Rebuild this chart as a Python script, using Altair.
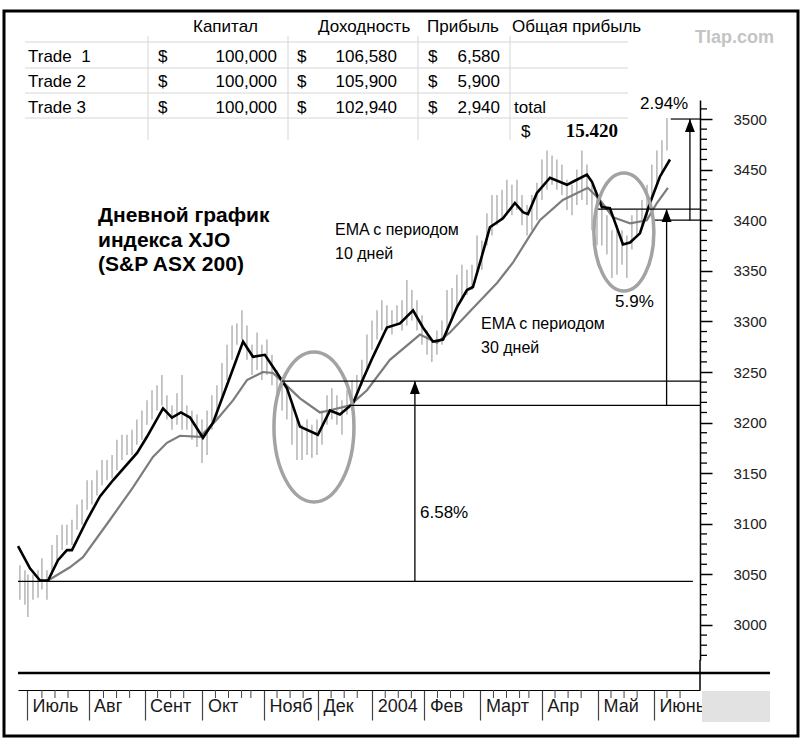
import json
import pandas as pd
import altair as alt

# ---------------- scale geometry (days since 1 Jul 2003, index points) ----------------
X_DOMAIN = [-4.82, 360.7]
Y_DOMAIN = [2965.4, 3518.8]

# ---------------- daily price bars ----------------
bar_day = [-3.8, -1.1, 0.5, 3.2, 5.9, 8.0, 10.7, 13.4, 16.1, 18.8,
           21.4, 24.1, 26.8, 29.5, 32.2, 34.8, 37.5, 40.2, 42.9, 45.6,
           48.2, 50.9, 53.6, 56.3, 58.9, 61.6, 64.3, 67.0, 69.7, 72.3,
           75.0, 77.7, 80.4, 83.1, 85.7, 88.4, 91.1, 93.8, 96.5, 99.1,
           101.8, 104.5, 107.2, 109.9, 112.5, 115.2, 117.9, 120.6, 123.3, 125.9,
           128.6, 131.3, 134.0, 136.7, 139.3, 142.0, 144.7, 147.4, 150.1, 152.7,
           155.4, 158.1, 160.8, 163.4, 166.1, 168.8, 171.5, 174.2, 176.8, 179.5,
           182.2, 184.9, 187.6, 190.2, 192.9, 195.6, 198.3, 201.0, 203.6, 206.3,
           209.0, 211.7, 214.4, 217.0, 219.7, 222.4, 225.1, 227.8, 230.4, 233.1,
           235.8, 238.5, 241.2, 243.8, 246.5, 249.2, 251.9, 254.6, 257.2, 259.9,
           262.6, 265.3, 268.0, 270.6, 273.3, 276.0, 278.7, 281.4, 284.0, 286.7,
           289.4, 292.1, 294.7, 297.4, 300.1, 302.8, 305.5, 308.1, 310.8, 313.5,
           316.2, 318.9, 321.5, 324.2, 326.9, 329.6, 332.3, 334.9, 337.6, 340.3,
           343.0]
bar_high = [3059, 3054, 3050, 3050, 3054, 3066, 3054, 3079, 3089, 3099,
            3099, 3104, 3119, 3124, 3143, 3143, 3153, 3163, 3163, 3168,
            3183, 3188, 3188, 3193, 3203, 3212, 3222, 3232, 3237, 3247,
            3227, 3217, 3229, 3247, 3217, 3212, 3208, 3203, 3212, 3227,
            3237, 3259, 3277, 3296, 3298, 3311, 3296, 3277, 3289, 3277,
            3282, 3267, 3252, 3242, 3232, 3217, 3203, 3198, 3203, 3198,
            3203, 3212, 3227, 3234, 3227, 3222, 3232, 3242, 3247, 3262,
            3287, 3301, 3311, 3321, 3316, 3311, 3316, 3321, 3341, 3331,
            3321, 3306, 3291, 3282, 3291, 3301, 3331, 3333, 3346, 3356,
            3351, 3356, 3385, 3380, 3407, 3425, 3425, 3430, 3440, 3435,
            3440, 3425, 3415, 3425, 3437, 3460, 3469, 3464, 3460, 3455,
            3440, 3435, 3450, 3469, 3455, 3435, 3425, 3415, 3405, 3390,
            3395, 3390, 3385, 3405, 3410, 3420, 3435, 3455, 3469, 3479,
            3501]
bar_low = [3025, 3020, 3008, 3025, 3027, 3035, 3025, 3050, 3064, 3074,
           3079, 3079, 3094, 3099, 3114, 3119, 3128, 3138, 3143, 3145,
           3153, 3163, 3168, 3168, 3178, 3183, 3198, 3203, 3212, 3217,
           3203, 3193, 3198, 3193, 3193, 3183, 3176, 3160, 3168, 3193,
           3203, 3222, 3242, 3262, 3277, 3282, 3262, 3247, 3252, 3242,
           3247, 3237, 3222, 3212, 3203, 3178, 3163, 3163, 3168, 3165,
           3168, 3178, 3198, 3203, 3198, 3188, 3208, 3212, 3222, 3237,
           3252, 3272, 3282, 3291, 3291, 3287, 3296, 3291, 3296, 3301,
           3291, 3277, 3267, 3260, 3267, 3277, 3287, 3301, 3311, 3321,
           3326, 3331, 3346, 3351, 3375, 3385, 3395, 3400, 3405, 3405,
           3410, 3395, 3385, 3390, 3400, 3420, 3430, 3435, 3430, 3425,
           3410, 3405, 3415, 3420, 3415, 3390, 3375, 3375, 3366, 3343,
           3346, 3356, 3343, 3371, 3385, 3392, 3400, 3420, 3435, 3445,
           3469]

# ---------------- moving averages ----------------
ema10_day = [-4.8, 1.6, 7.0, 11.3, 16.6, 21.4, 24.1, 32.2, 39.1, 46.1,
             59.0, 64.3, 72.9, 77.7, 82.5, 87.4, 94.3, 99.7, 108.8, 115.8,
             121.1, 127.5, 134.0, 139.3, 146.3, 155.9, 162.4, 167.7, 174.7, 180.1,
             185.4, 192.9, 199.9, 206.9, 212.2, 217.6, 223.0, 230.4, 235.8, 239.0,
             242.8, 248.1, 255.1, 261.5, 265.8, 268.5, 273.3, 280.3, 289.4, 292.6,
             300.1, 302.8, 308.1, 312.4, 319.4, 323.2, 328.5, 333.9, 339.2, 344.6]
ema10_val = [3078, 3056, 3044, 3044, 3064, 3074, 3074, 3104, 3127, 3143,
             3170, 3186, 3214, 3205, 3210, 3205, 3185, 3200, 3245, 3280,
             3265, 3267, 3249, 3234, 3196, 3188, 3212, 3208, 3219, 3243,
             3265, 3294, 3298, 3311, 3294, 3280, 3282, 3314, 3331, 3334,
             3358, 3393, 3402, 3417, 3408, 3406, 3427, 3442, 3435, 3438,
             3445, 3438, 3413, 3412, 3376, 3378, 3387, 3417, 3443, 3460]

ema30_day = [11.3, 23.0, 30.0, 44.5, 56.8, 67.5, 75.0, 82.0, 92.7, 101.8,
             110.4, 117.9, 126.5, 131.8, 137.2, 146.3, 157.0, 164.0, 173.1, 182.2,
             194.5, 210.6, 219.7, 226.7, 239.0, 251.9, 260.4, 269.6, 274.9, 287.2,
             300.6, 307.1, 314.0, 323.2, 332.2, 337.6, 343.5]
ema30_val = [3044, 3057, 3067, 3104, 3136, 3166, 3180, 3187, 3186, 3203,
             3222, 3242, 3250, 3249, 3240, 3224, 3210, 3213, 3217, 3232,
             3262, 3287, 3279, 3289, 3313, 3338, 3358, 3385, 3400, 3420,
             3432, 3420, 3403, 3397, 3400, 3417, 3432]

# ---------------- annotation levels / arrows / ellipses ----------------
level_val = [3043, 3241, 3217, 3411, 3400, 3500]
level_start = [-4.82, 136.7, 173.1, 306.0, 336.6, 345.0]
level_end = [356.9, 360.7, 360.7, 360.7, 360.7, 360.7]

arrow_day = [207.9, 342.8, 355.3]
arrow_base = [3043, 3217, 3400]
arrow_tip = [3241, 3411, 3500]

ellipse_day = [153.8, 319.9]
ellipse_val = [3195.7, 3388.4]

# ---------------- axes ----------------
month_ticks = [0, 33, 63, 94, 127, 156, 185, 213, 243, 276, 306, 336]
month_labels = ["Июль", "Авг", "Сент", "Окт", "Нояб", "Дек", "2004",
                "Фев", "Март", "Апр", "Май", "Июнь"]
price_ticks = [3000, 3050, 3100, 3150, 3200, 3250, 3300, 3350, 3400, 3450, 3500]
minor_price_ticks = [2970, 2980, 2990, 3010, 3020, 3030, 3040, 3060, 3070, 3080, 3090,
                     3110, 3120, 3130, 3140, 3160, 3170, 3180, 3190, 3210, 3220, 3230,
                     3240, 3260, 3270, 3280, 3290, 3310, 3320, 3330, 3340, 3360, 3370,
                     3380, 3390, 3410, 3420, 3430, 3440, 3460, 3470, 3480, 3490, 3510]
minor_day_ticks = [8, 15, 22, 41, 48, 55, 70, 77, 84, 101, 108, 115, 120, 134, 141, 148,
                   163, 170, 177, 192, 199, 206, 220, 227, 234, 250, 257, 264, 269,
                   283, 290, 297, 313, 320, 327, 343, 350]

# ---------------- table ----------------
headers = ["Капитал", "Доходность", "Прибыль", "Общая прибыль"]
trade_names = ["Trade\u00a0 1", "Trade 2", "Trade 3"]
capital = ["100,000", "100,000", "100,000"]
proceeds = ["106,580", "105,900", "102,940"]
profit = ["6,580", "5,900", "2,940"]
total_profit = "15.420"

FONT = "Liberation Sans"
xs = alt.Scale(domain=X_DOMAIN, nice=False, zero=False)
ys = alt.Scale(domain=Y_DOMAIN, nice=False, zero=False)
one = pd.DataFrame({"k": [0]})


def X(field):
    return alt.X(field, scale=xs, title=None)


def Y(field):
    return alt.Y(field, scale=ys, title=None)


def px_text(rows, align="left", size=17, weight="normal", font=FONT, color="black"):
    layers = []
    for px, py, t in rows:
        layers.append(alt.Chart(one).mark_text(
            align=align, baseline="alphabetic", fontSize=size, fontWeight=weight,
            font=font, color=color
        ).encode(x=alt.value(px), y=alt.value(py), text=alt.value(t)))
    return layers


def px_rules(rows, color, width):
    layers = []
    for x1, x2, y1, y2 in rows:
        layers.append(alt.Chart(one).mark_rule(color=color, strokeWidth=width).encode(
            x=alt.value(x1), x2=alt.value(x2), y=alt.value(y1), y2=alt.value(y2)))
    return layers


# price bars carry the axes
label_expr = (f"{json.dumps(month_labels, ensure_ascii=False)}"
              f"[indexof({json.dumps(month_ticks)}, datum.value)]")
bars_df = pd.DataFrame({"day": bar_day, "hi": bar_high, "lo": bar_low})
bars = alt.Chart(bars_df).mark_rule(color="#a9a9a9", strokeWidth=1.3).encode(
    x=alt.X("day:Q", scale=xs, title=None, axis=alt.Axis(
        orient="bottom", offset=30, values=month_ticks, tickSize=30, tickColor="#444",
        tickWidth=1.2, domainColor="black", domainWidth=1, labelAlign="left",
        labelBaseline="middle", labelPadding=-14, labelOffset=5, labelFont=FONT,
        labelFontSize=18, labelColor="#1a1a1a", labelExpr=label_expr,
        labelOverlap=False, labelFlush=False, labelBound=False, grid=False)),
    y=alt.Y("lo:Q", scale=ys, title=None, axis=alt.Axis(
        orient="right", values=price_ticks, format="d", tickSize=12, tickColor="black",
        tickWidth=1.5, domainColor="black", domainWidth=1.5, labelPadding=21,
        labelFont=FONT, labelFontSize=15, labelColor="#222", grid=False,
        labelFlush=False)),
    y2="hi:Q",
)

ema30 = alt.Chart(pd.DataFrame({"day": ema30_day, "val": ema30_val})).mark_line(
    color="#7c7c7c", strokeWidth=2.2).encode(x=X("day:Q"), y=Y("val:Q"))
ema10 = alt.Chart(pd.DataFrame({"day": ema10_day, "val": ema10_val})).mark_line(
    color="black", strokeWidth=2.6).encode(x=X("day:Q"), y=Y("val:Q"))

ell_shapes = [
    "M0,-1 C0.2946,-1 0.5333,-0.5523 0.5333,0 C0.5333,0.5523 0.2946,1 0,1 "
    "C-0.2946,1 -0.5333,0.5523 -0.5333,0 C-0.5333,-0.5523 -0.2946,-1 0,-1 Z",
    "M0,-1 C0.2808,-1 0.5085,-0.5523 0.5085,0 C0.5085,0.5523 0.2808,1 0,1 "
    "C-0.2808,1 -0.5085,0.5523 -0.5085,0 C-0.5085,-0.5523 -0.2808,-1 0,-1 Z",
]
ell_sizes = [22500, 13924]
ellipses = []
for i in range(2):
    ellipses.append(
        alt.Chart(pd.DataFrame({"day": [ellipse_day[i]], "val": [ellipse_val[i]]})).mark_point(
            shape=ell_shapes[i], size=ell_sizes[i], filled=False, stroke="#a3a3a3",
            strokeWidth=3.5, opacity=1).encode(x=X("day:Q"), y=Y("val:Q")))

levels = alt.Chart(pd.DataFrame({"s": level_start, "e": level_end, "v": level_val})).mark_rule(
    color="black", strokeWidth=1.2).encode(x=X("s:Q"), x2="e:Q", y=Y("v:Q"))

arr_df = pd.DataFrame({"day": arrow_day, "b": arrow_base, "t": arrow_tip})
shafts = alt.Chart(arr_df).mark_rule(color="black", strokeWidth=1.3).encode(
    x=X("day:Q"), y=Y("b:Q"), y2="t:Q")
heads = alt.Chart(arr_df).mark_point(
    shape="M0,0 L-0.38,1 L0.38,1 Z", size=676, filled=True, color="black", opacity=1).encode(
    x=X("day:Q"), y=Y("t:Q"))

minor_x = alt.Chart(pd.DataFrame({"day": minor_day_ticks})).mark_rule(
    color="#444", strokeWidth=1).encode(x=X("day:Q"), y=alt.value(590), y2=alt.value(598))
minor_y = alt.Chart(pd.DataFrame({"v": minor_price_ticks})).mark_rule(
    color="black", strokeWidth=1.3).encode(y=Y("v:Q"), x=alt.value(682), x2=alt.value(689))

# ---------------- decorations placed in pixels ----------------
frame = alt.Chart(one).mark_rect(fillOpacity=0, stroke="black", strokeWidth=3).encode(
    x=alt.value(-14), x2=alt.value(780), y=alt.value(-89), y2=alt.value(636))
gray_box = alt.Chart(one).mark_rect(color="#e2e2e2").encode(
    x=alt.value(684), x2=alt.value(752), y=alt.value(591), y2=alt.value(622))

row_y = [-38, -13, 13]
grid_rows = [[7, 610, y, y] for y in [-58, -32, -7, 18]] + \
            [[x, x, -64, 40] for x in [130, 270, 400, 492]]
table_grid = px_rules(grid_rows, "#d6d6d6", 1)

left_rows = [[x, -68, h] for x, h in zip([175, 300, 409, 494], headers)]
for i, y in enumerate(row_y):
    left_rows.append([10, y, trade_names[i]])
    left_rows += [[140, y, "$"], [279, y, "$"], [410, y, "$"]]
left_rows.append([496, 13, "total"])
left_rows.append([503, 37, "$"])
table_left = px_text(left_rows)

right_rows = []
for i, y in enumerate(row_y):
    right_rows += [[259, y, capital[i]], [379, y, proceeds[i]], [482, y, profit[i]]]
table_right = px_text(right_rows, align="right")
table_total = px_text([[600, 37, total_profit]], align="right", size=19, weight="bold",
                      font="Liberation Serif")
watermark = px_text([[677, -57, "Tlap.com"]], size=18, weight="bold", color="#c4c4c4")

title_text = px_text([[80, 122, "Дневной график"], [80, 147, "индекса XJO"],
                      [80, 171, "(S&P ASX 200)"]], size=21, weight="bold")
ema_text = px_text([[317, 135, "EMA с периодом"], [317, 159, "10 дней"],
                    [463, 229, "EMA с периодом"], [463, 253, "30 дней"]], size=16)
pct_text = px_text([[402, 418, "6.58%"], [597, 207, "5.9%"], [622, 9, "2.94%"]], size=17)

bottom_lines = px_rules([[0, 752, 573, 573]], "black", 2.5)
axis_ext = px_rules([[682, 682, 560, 590]], "black", 1.5)

chart = alt.layer(
    bars, ema30, ema10, *ellipses, levels, shafts, heads, minor_x, minor_y,
    gray_box, frame, *table_grid, *table_left, *table_right, *table_total, *watermark,
    *title_text, *ema_text, *pct_text, *bottom_lines, *axis_ext,
).properties(
    width=682, height=560,
    padding={"left": 18, "top": 100, "right": 102, "bottom": 90},
    autosize=alt.AutoSizeParams(type="none"),
    background="white",
).configure_view(strokeWidth=0)

chart.save("out.html", embed_options={"renderer": "svg", "actions": False})
